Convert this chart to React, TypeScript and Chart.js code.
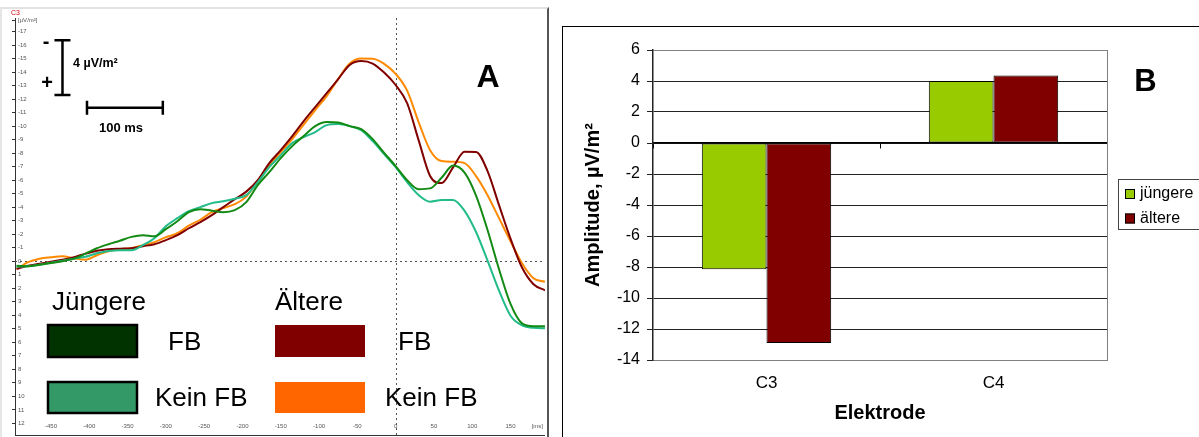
import React, { useEffect, useRef } from 'react';
import { Chart, registerables } from 'chart.js';

Chart.register(...registerables);

const FONT = 'Arial, "Liberation Sans", Helvetica, sans-serif';

// ---------- Panel A: ERP waveforms (C3) ----------
const timesMs = [-495, -480, -465, -450, -435, -420, -405, -390, -375, -360, -345, -330, -315, -300, -285, -270, -255, -240, -225, -210, -195, -180, -165, -150, -135, -120, -105, -90, -75, -60, -45, -30, -15, 0, 15, 30, 45, 60, 75, 90, 105, 120, 135, 150, 165, 180, 195];

const jungereFB = [0.33, 0.37, 0.26, 0.13, 0, -0.19, -0.56, -0.96, -1.26, -1.52, -1.8, -1.93, -1.85, -2.37, -2.96, -3.63, -3.85, -3.74, -3.63, -3.78, -4.37, -5.63, -6.59, -7.63, -8.52, -9.26, -10.0, -10.3, -10.26, -10.0, -9.78, -9.04, -8.02, -7.04, -6.0, -5.33, -5.39, -6.18, -7.08, -6.56, -4.86, -2.31, 0.59, 3.16, 4.6, 4.81, 4.81];
const jungereKeinFB = [0.41, 0.37, 0.26, 0.11, -0.04, -0.19, -0.33, -0.59, -0.76, -0.81, -0.81, -1.19, -1.7, -2.59, -3.19, -3.7, -4.0, -4.3, -4.44, -4.63, -4.89, -5.85, -6.96, -7.85, -8.74, -9.19, -9.56, -10.07, -10.15, -10.0, -9.7, -8.89, -7.93, -6.96, -5.85, -4.9, -4.41, -4.53, -4.54, -3.73, -2.16, -0.04, 2.18, 4.03, 4.75, 4.93, 4.96];
const altereFB = [0.56, 0.33, 0.19, 0.04, -0.11, -0.3, -0.56, -0.78, -0.89, -0.93, -0.96, -1.11, -1.26, -1.56, -1.93, -2.44, -2.89, -3.41, -4.0, -4.59, -5.15, -6.0, -7.26, -8.22, -9.26, -10.37, -11.41, -12.44, -13.48, -14.52, -14.81, -14.63, -13.96, -13.04, -11.7, -8.96, -6.31, -5.78, -6.94, -8.1, -8.09, -6.67, -4.15, -1.67, 0.47, 1.7, 2.15];
const altereKeinFB = [0.59, 0.07, -0.19, -0.3, -0.37, -0.22, -0.11, -0.44, -0.74, -0.89, -0.96, -1.19, -1.41, -1.78, -2.07, -2.63, -3.07, -3.63, -3.93, -4.22, -4.78, -5.93, -7.11, -8.07, -9.04, -10.11, -11.19, -12.22, -13.49, -14.63, -15.0, -14.99, -14.61, -13.87, -12.63, -10.3, -8.22, -7.41, -7.36, -7.26, -6.3, -4.89, -3.19, -1.48, 0.15, 1.26, 1.53];

const erpXTicks = [-450, -400, -350, -300, -250, -200, -150, -100, -50, 0, 50, 100, 150];
const erpXUnitTick = 185;
const erpYTicks = [-17, -16, -15, -14, -13, -12, -11, -10, -9, -8, -7, -6, -5, -4, -3, -2, -1, 0, 1, 2, 3, 4, 5, 6, 7, 8, 9, 10, 11, 12];
const erpYUnitTick = -17.85;

// ---------- Panel B: amplitudes ----------
const electrodes = ['C3', 'C4'];
const jungereAmp = [-8.15, 4.0];
const altereAmp = [-12.9, 4.35];

function ErpChart() {
  const ref = useRef<HTMLCanvasElement>(null);
  useEffect(() => {
    const mk = (vals: number[]) => timesMs.map((t, i) => ({ x: t, y: vals[i] }));
    const annot = {
      id: 'erpAnnot',
      beforeDatasetsDraw(chart: any) {
        const { ctx, chartArea } = chart;
        const xs = chart.scales.x;
        const ys = chart.scales.y;
        ctx.save();
        ctx.strokeStyle = '#555';
        ctx.lineWidth = 1;
        ctx.setLineDash([2, 3]);
        const y0 = Math.round(ys.getPixelForValue(0)) + 0.5;
        ctx.beginPath();
        ctx.moveTo(chartArea.left, y0);
        ctx.lineTo(chartArea.right, y0);
        ctx.stroke();
        const x0 = Math.round(xs.getPixelForValue(0)) + 0.5;
        ctx.beginPath();
        ctx.moveTo(x0, chartArea.top);
        ctx.lineTo(x0, chartArea.bottom);
        ctx.stroke();
        ctx.restore();
      },
      afterDraw(chart: any) {
        const { ctx } = chart;
        const xs = chart.scales.x;
        const ys = chart.scales.y;
        ctx.save();
        // calibration bars
        ctx.strokeStyle = '#000';
        ctx.lineWidth = 2.5;
        const vx = xs.getPixelForValue(-435);
        const vt = ys.getPixelForValue(-16.35);
        const vb = ys.getPixelForValue(-12.3);
        ctx.beginPath();
        ctx.moveTo(vx, vt); ctx.lineTo(vx, vb);
        ctx.moveTo(vx - 8, vt); ctx.lineTo(vx + 8, vt);
        ctx.moveTo(vx - 8, vb); ctx.lineTo(vx + 8, vb);
        const hy = ys.getPixelForValue(-11.35);
        const hl = xs.getPixelForValue(-403);
        const hr = xs.getPixelForValue(-304);
        ctx.moveTo(hl, hy); ctx.lineTo(hr, hy);
        ctx.moveTo(hl, hy - 7); ctx.lineTo(hl, hy + 7);
        ctx.moveTo(hr, hy - 7); ctx.lineTo(hr, hy + 7);
        ctx.stroke();
        ctx.fillStyle = '#000';
        ctx.textBaseline = 'alphabetic';
        ctx.textAlign = 'center';
        ctx.font = `bold 20px ${FONT}`;
        ctx.fillText('-', 46, 48);
        ctx.fillText('+', 47, 89);
        ctx.textAlign = 'left';
        ctx.font = `bold 12.5px ${FONT}`;
        ctx.fillText('4 µV/m²', 73, 67);
        ctx.textAlign = 'center';
        ctx.font = `bold 13px ${FONT}`;
        ctx.fillText('100 ms', 121, 132);
        // panel letter
        ctx.font = `bold 32px ${FONT}`;
        ctx.fillText('A', 488, 87);
        // electrode label
        ctx.textAlign = 'left';
        ctx.fillStyle = '#cc0000';
        ctx.font = `7px ${FONT}`;
        ctx.fillText('C3', 11, 15);
        // legend
        const ds = chart.data.datasets;
        ctx.fillStyle = '#000';
        ctx.font = `26px ${FONT}`;
        ctx.fillText('Jüngere', 52, 310);
        ctx.fillText('Ältere', 275, 310);
        ctx.fillText('FB', 168, 350);
        ctx.fillText('FB', 398, 350);
        ctx.fillText('Kein FB', 155, 406);
        ctx.fillText('Kein FB', 385, 406);
        const boxes = [
          { c: ds[0].legendColor, x: 48, y: 325, w: 89, h: 32, b: true },
          { c: ds[1].legendColor, x: 48, y: 382, w: 89, h: 31, b: true },
          { c: ds[2].legendColor, x: 275, y: 325, w: 90, h: 32, b: false },
          { c: ds[3].legendColor, x: 275, y: 382, w: 90, h: 31, b: false },
        ];
        boxes.forEach((bx) => {
          ctx.fillStyle = bx.c;
          ctx.fillRect(bx.x, bx.y, bx.w, bx.h);
          if (bx.b) {
            ctx.strokeStyle = '#000';
            ctx.lineWidth = 2.5;
            ctx.strokeRect(bx.x, bx.y, bx.w, bx.h);
          }
        });
        ctx.restore();
      },
    };
    const chart = new Chart(ref.current as HTMLCanvasElement, {
      type: 'line',
      data: {
        datasets: [
          { label: 'Jüngere FB', data: mk(jungereFB), borderColor: '#138a13', legendColor: '#003300' } as any,
          { label: 'Jüngere Kein FB', data: mk(jungereKeinFB), borderColor: '#22bb8a', legendColor: '#339966' } as any,
          { label: 'Ältere FB', data: mk(altereFB), borderColor: '#800000', legendColor: '#800000' } as any,
          { label: 'Ältere Kein FB', data: mk(altereKeinFB), borderColor: '#ff8a00', legendColor: '#ff6600' } as any,
        ],
      },
      options: {
        animation: false,
        responsive: false,
        maintainAspectRatio: false,
        layout: { padding: { top: 18, right: 1, left: 0, bottom: 0 } },
        plugins: { legend: { display: false }, tooltip: { enabled: false } },
        elements: {
          point: { radius: 0 },
          line: { borderWidth: 2, cubicInterpolationMode: 'monotone', fill: false },
        },
        scales: {
          x: {
            type: 'linear',
            min: -497,
            max: 195,
            afterFit: (s: any) => { s.height = 2; },
            afterBuildTicks: (s: any) => { s.ticks = [...erpXTicks, erpXUnitTick].map((v) => ({ value: v })); },
            ticks: {
              mirror: true,
              padding: 5,
              autoSkip: false,
              maxRotation: 0,
              color: '#555',
              font: { family: FONT, size: 6 },
              callback: (v: any) => (v === erpXUnitTick ? '[ms]' : String(v)),
            },
            grid: { display: false, drawTicks: false },
            border: { color: '#333', width: 1 },
          },
          y: {
            type: 'linear',
            reverse: true,
            min: -18,
            max: 12.89,
            afterFit: (s: any) => { s.width = 15; },
            afterBuildTicks: (s: any) => { s.ticks = [erpYUnitTick, ...erpYTicks].map((v) => ({ value: v })); },
            ticks: {
              mirror: true,
              padding: 3,
              autoSkip: false,
              color: '#555',
              font: { family: FONT, size: 6 },
              callback: (v: any) => (v === erpYUnitTick ? '[µV/m²]' : String(v)),
            },
            grid: { drawOnChartArea: false, tickLength: 3, color: '#333' },
            border: { color: '#333', width: 1 },
          },
        },
      } as any,
      plugins: [annot],
    });
    return () => chart.destroy();
  }, []);
  return (
    <canvas
      ref={ref}
      width={548}
      height={442}
      style={{ position: 'absolute', left: 0, top: 0, width: 548, height: 442 }}
    />
  );
}

function AmpChart() {
  const ref = useRef<HTMLCanvasElement>(null);
  useEffect(() => {
    const extras = {
      id: 'ampExtras',
      afterDraw(chart: any) {
        const { ctx, chartArea } = chart;
        ctx.save();
        ctx.strokeStyle = '#808080';
        ctx.lineWidth = 1;
        const rx = Math.round(chartArea.right) + 0.5;
        ctx.beginPath();
        ctx.moveTo(rx, chartArea.top);
        ctx.lineTo(rx, chartArea.bottom);
        ctx.stroke();
        // legend
        ctx.strokeStyle = '#444';
        ctx.strokeRect(570.5, 179.5, 90, 50);
        ctx.font = `16px ${FONT}`;
        ctx.textBaseline = 'middle';
        ctx.textAlign = 'left';
        chart.data.datasets.forEach((d: any, i: number) => {
          const y = 189 + i * 24.5;
          ctx.fillStyle = d.backgroundColor;
          ctx.fillRect(577, y, 10, 10);
          ctx.strokeStyle = '#000';
          ctx.strokeRect(577.5, y + 0.5, 9, 9);
          ctx.fillStyle = '#000';
          ctx.fillText(d.label, 592, y + 5);
        });
        ctx.textBaseline = 'alphabetic';
        ctx.textAlign = 'center';
        ctx.font = `bold 31px ${FONT}`;
        ctx.fillText('B', 597.5, 91);
        ctx.restore();
      },
    };
    const chart = new Chart(ref.current as HTMLCanvasElement, {
      type: 'bar',
      data: {
        labels: electrodes,
        datasets: [
          { label: 'jüngere', data: jungereAmp, backgroundColor: '#99cc00', borderColor: '#000', borderWidth: 1, borderSkipped: false },
          { label: 'ältere', data: altereAmp, backgroundColor: '#800000', borderColor: '#000', borderWidth: 1, borderSkipped: false },
        ],
      },
      options: {
        animation: false,
        responsive: false,
        maintainAspectRatio: false,
        layout: { padding: { top: 50, right: 92, left: 0, bottom: 0 } },
        plugins: { legend: { display: false }, tooltip: { enabled: false } },
        datasets: { bar: { categoryPercentage: 0.57, barPercentage: 1.0 } },
        scales: {
          x: {
            type: 'category',
            offset: true,
            afterFit: (s: any) => { s.height = 77; },
            grid: { display: false, drawTicks: false },
            border: { color: '#808080', width: 1 },
            ticks: { padding: 13, color: '#000', font: { family: FONT, size: 17 } },
            title: {
              display: true,
              text: 'Elektrode',
              color: '#000',
              font: { family: FONT, size: 20, weight: 'bold' },
              padding: { top: 0, bottom: 12 },
            },
          },
          x2: {
            type: 'category',
            labels: electrodes,
            position: { y: 0 },
            offset: true,
            grid: { offset: true, drawOnChartArea: false, drawTicks: true, tickLength: 5, color: '#000' },
            ticks: { display: false },
            border: { color: '#000', width: 1.5 },
          },
          y: {
            type: 'linear',
            min: -14,
            max: 6,
            afterFit: (s: any) => { s.width = 105; },
            ticks: { stepSize: 2, padding: 7, color: '#000', font: { family: FONT, size: 16 } },
            grid: {
              color: (c: any) => (c.tick && (c.tick.value === 6 || c.tick.value === -14) ? '#808080' : '#222'),
              tickColor: '#222',
              tickLength: 6,
              lineWidth: 1,
            },
            border: { color: '#222', width: 1.5 },
            title: {
              display: true,
              text: 'Amplitude, µV/m²',
              color: '#000',
              font: { family: FONT, size: 20, weight: 'bold' },
              padding: { top: 33, bottom: 0 },
            },
          },
        },
      } as any,
      plugins: [extras],
    });
    return () => chart.destroy();
  }, []);
  return (
    <canvas
      ref={ref}
      width={651}
      height={437}
      style={{ position: 'absolute', left: 548, top: 0, width: 651, height: 437 }}
    />
  );
}

export default function App() {
  return (
    <div
      style={{
        position: 'fixed',
        left: 0,
        top: 0,
        width: 1199,
        height: 437,
        overflow: 'hidden',
        background: '#fff',
      }}
    >
      <div
        style={{
          position: 'absolute',
          left: 0,
          top: 7,
          width: 549,
          height: 440,
          boxSizing: 'border-box',
          borderTop: '2px solid #e2e2e2',
          borderLeft: '2px solid #e6e6e6',
          borderRight: '2px solid #555',
        }}
      />
      <div
        style={{
          position: 'absolute',
          left: 562,
          top: 26,
          width: 700,
          height: 500,
          border: '1px solid #000',
        }}
      />
      <ErpChart />
      <AmpChart />
    </div>
  );
}
